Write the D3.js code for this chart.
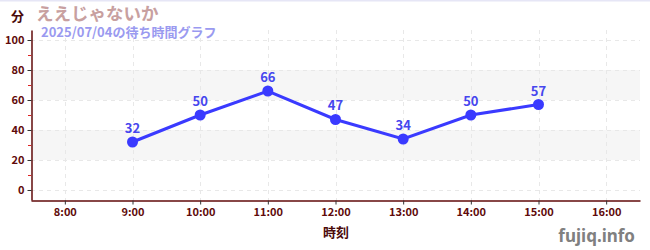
<!DOCTYPE html>
<html>
<head>
<meta charset="utf-8">
<script src="https://cdn.jsdelivr.net/npm/d3@7"></script>
<style>
  html, body { margin: 0; padding: 0; background: #fff; }
  svg { display: block; font-family: "Noto Sans CJK JP", "Noto Sans", sans-serif; }
</style>
</head>
<body>
<svg id="chart" width="650" height="250"></svg>
<script>
// Wait times (minutes) by hour of day
const hours = [9, 10, 11, 12, 13, 14, 15];
const waits = [32, 50, 66, 47, 34, 50, 57];
const hourTicks = [8, 9, 10, 11, 12, 13, 14, 15, 16];
const minuteTicks = [0, 20, 40, 60, 80, 100];
const minorTicks = [10, 30, 50, 70, 90];
const bands = [[20, 40], [60, 80]];

const title = "ええじゃないか";
const subtitle = "2025/07/04の待ち時間グラフ";

const svg = d3.select("#chart");
const plotLeft = 31, plotRight = 640, plotTop = 30, plotBottom = 200;

const x = d3.scaleLinear().domain([7.5, 16.5]).range([plotLeft, plotRight]);
const y = d3.scaleLinear().domain([-6.67, 106.67]).range([plotBottom, plotTop]);

// thin rule along the top edge
svg.append("rect").attr("x", 0).attr("y", 0).attr("width", 650).attr("height", 1.5).attr("fill", "#e6e6f6");

// shaded bands
svg.append("g").selectAll("rect").data(bands).join("rect")
  .attr("x", plotLeft).attr("width", plotRight - plotLeft)
  .attr("y", d => y(d[1])).attr("height", d => y(d[0]) - y(d[1]))
  .attr("fill", "#f6f6f6");

// dashed grid
const grid = svg.append("g").attr("stroke", "#e8e8e8").attr("stroke-dasharray", "4,4").attr("stroke-width", 1);
grid.selectAll(".h").data(minuteTicks).join("line")
  .attr("x1", plotLeft).attr("x2", plotRight).attr("y1", d => y(d) + 0.5).attr("y2", d => y(d) + 0.5);
grid.selectAll(".v").data(hourTicks).join("line")
  .attr("y1", plotTop).attr("y2", plotBottom).attr("x1", d => Math.round(x(d)) + 0.5).attr("x2", d => Math.round(x(d)) + 0.5);

const axisColor = "#600a0a";

// y axis
const yAxis = svg.append("g").attr("transform", `translate(${plotLeft + 0.5},0)`)
  .call(d3.axisLeft(y).tickValues(minuteTicks).tickSize(4).tickPadding(3).tickSizeOuter(0));
// minor ticks
svg.append("g").selectAll("line").data(minorTicks).join("line")
  .attr("x1", plotLeft - 3).attr("x2", plotLeft).attr("y1", d => y(d) + 0.5).attr("y2", d => y(d) + 0.5)
  .attr("stroke", "#dd2222").attr("stroke-width", 1);

// x axis
const xAxis = svg.append("g").attr("transform", `translate(0,${plotBottom + 0.5})`)
  .call(d3.axisBottom(x).tickValues(hourTicks).tickFormat(d => d + ":00").tickSize(4).tickPadding(4).tickSizeOuter(0));

[yAxis, xAxis].forEach(g => {
  g.select(".domain").attr("stroke", axisColor).attr("stroke-width", 1.5);
  g.selectAll(".tick line").attr("stroke", "#333");
  g.selectAll(".tick text").attr("fill", axisColor).attr("font-size", 11).attr("font-weight", "bold")
    .attr("font-family", "\"Noto Sans CJK JP\", sans-serif");
});

// line + points
const lineColor = "#3a3aff";
svg.append("path")
  .datum(hours.map((h, i) => [h, waits[i]]))
  .attr("fill", "none").attr("stroke", lineColor).attr("stroke-width", 3)
  .attr("d", d3.line().x(d => x(d[0])).y(d => y(d[1])));

svg.append("g").selectAll("circle").data(hours).join("circle")
  .attr("cx", d => x(d)).attr("cy", (d, i) => y(waits[i])).attr("r", 5.5)
  .attr("fill", lineColor);

svg.append("g").selectAll("text").data(hours).join("text")
  .attr("x", d => x(d)).attr("y", (d, i) => y(waits[i]) - 9)
  .attr("text-anchor", "middle").attr("font-size", 13).attr("font-weight", "bold")
  .attr("fill", "#4646ee")
  .text((d, i) => waits[i]);

// titles and labels
svg.append("text").attr("x", 11).attr("y", 21).attr("font-size", 13).attr("font-weight", "bold")
  .attr("fill", "#4a0a0a").text("分");
svg.append("text").attr("x", 36).attr("y", 20).attr("font-size", 17.5).attr("font-weight", "bold")
  .attr("fill", "#c8a0a0").text(title);
svg.append("text").attr("x", 41).attr("y", 37).attr("font-size", 13).attr("font-weight", "bold")
  .attr("fill", "#9a9af0").text(subtitle);
svg.append("text").attr("x", 336).attr("y", 237).attr("text-anchor", "middle").attr("font-size", 13)
  .attr("font-weight", "bold").attr("fill", "#4a0a0a").text("時刻");
svg.append("text").attr("x", 635).attr("y", 242).attr("text-anchor", "end").attr("font-size", 17)
  .attr("font-weight", "bold").attr("fill", "#808080").attr("font-family", "\"Noto Sans\", sans-serif")
  .text("fujiq.info");
</script>
</body>
</html>
